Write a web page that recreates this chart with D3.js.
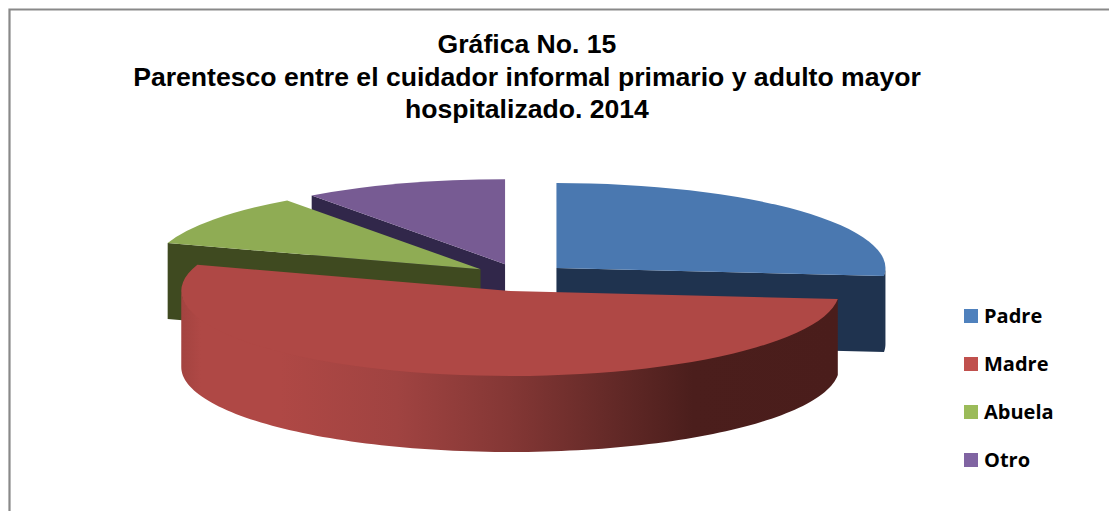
<!DOCTYPE html>
<html><head><meta charset="utf-8">
<script src="https://cdn.jsdelivr.net/npm/d3@7"></script>
<style>html,body{margin:0;padding:0;background:#fff}svg{display:block}</style>
</head><body><svg id="c" width="1109" height="511"></svg>
<script>
const categories=["Padre","Madre","Abuela","Otro"];
const values=[26.5,53.5,10,10];
const topColors=["#4a78b0","#af4845","#8fac54","#775b93"];
const faceColors=["#1f334f","#4a1d1b","#3f4a20","#31274a"];
const legendColors=["#4f81bd","#c0504d","#9bbb59","#8064a2"];
const titleLines=["Gráfica No. 15","Parentesco entre el cuidador informal primario y adulto mayor","hospitalizado. 2014"];

const W=1109,H=511,cx=520.2,cy=277.4,rx=329,ry=85,depth=76,explodeX=49,explodeY=13.9;
const svg=d3.select("#c");

svg.append("path").attr("d",`M9.5,${H}V9.5H${W}`).attr("fill","none").attr("stroke","#898989").attr("stroke-width",2.2);

svg.append("g").selectAll("text").data(titleLines).join("text")
 .attr("x",527).attr("y",(d,i)=>53+i*32.5).attr("text-anchor","middle")
 .attr("font-family","Liberation Sans").attr("font-weight","bold").attr("font-size",26.6).attr("fill","#000").text(d=>d);

const defs=svg.append("defs");
const grad=defs.append("linearGradient").attr("id","wall").attr("gradientUnits","userSpaceOnUse")
 .attr("x1",181).attr("x2",837).attr("y1",0).attr("y2",0);
[[0,"#a34340"],[0.03,"#af4845"],[0.15,"#af4845"],[0.33,"#a04341"],[0.5,"#843735"],[0.65,"#652a28"],[0.78,"#4b1e1c"],[1,"#4a1d1b"]]
 .forEach(s=>grad.append("stop").attr("offset",s[0]).attr("stop-color",s[1]));

const arcs=d3.pie().sort(null).value(d=>d)(values);
arcs.forEach((a,i)=>{a.index=i;const m=(a.startAngle+a.endAngle)/2;
 a.ax=cx+explodeX*Math.sin(m);a.ay=cy-explodeY*Math.cos(m);});
const px=(a,t)=>a.ax+rx*Math.sin(t), py=(a,t)=>a.ay-ry*Math.cos(t);
const arcGen=d3.arc().innerRadius(0).outerRadius(rx);
const rimArea=d3.area().x(d=>d.x).y0(d=>d.y-1).y1(d=>d.y+depth);
const line=d3.line();

function drawSlice(a){
 const i=a.index,g=svg.append("g");
 const face=t=>g.append("path").attr("fill",faceColors[i]).attr("d",
  line([[a.ax,a.ay],[px(a,t),py(a,t)],[px(a,t),py(a,t)+depth],[a.ax,a.ay+depth]])+"Z");
 if(a.startAngle>Math.PI&&a.startAngle<2*Math.PI) face(a.startAngle);
 if(a.endAngle>0&&a.endAngle<Math.PI) face(a.endAngle);
 const front0=Math.max(a.startAngle,Math.PI/2), front1=Math.min(a.endAngle,3*Math.PI/2);
 if(front1>front0){
  const ts=d3.range(0,121).map(k=>front0+(front1-front0)*k/120);
  g.append("path").attr("fill",i===1?"url(#wall)":faceColors[i])
   .attr("d",rimArea(ts.map(t=>({x:px(a,t),y:py(a,t)}))));
 }
 g.append("path").attr("fill",topColors[i]).attr("d",arcGen(a))
  .attr("transform",`translate(${a.ax},${a.ay}) scale(1,${ry/rx})`);
}
[3,2,0,1].forEach(i=>drawSlice(arcs[i]));

const leg=svg.append("g").selectAll("g").data(categories).join("g")
 .attr("transform",(d,i)=>`translate(964,${309+i*48})`);
leg.append("rect").attr("width",14).attr("height",14).attr("fill",(d,i)=>legendColors[i]);
leg.append("text").attr("x",20).attr("y",13.5).attr("font-family","Open Sans").attr("font-weight","bold")
 .attr("font-size",20).attr("fill","#000").text(d=>d);
</script></body></html>
